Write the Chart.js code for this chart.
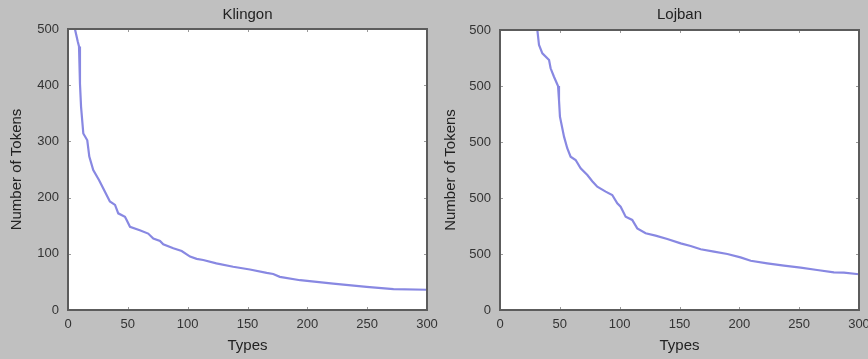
<!DOCTYPE html>
<html>
<head>
<meta charset="utf-8">
<script src="https://cdn.jsdelivr.net/npm/chart.js@4/dist/chart.umd.min.js"></script>
<style>
  html, body { margin: 0; padding: 0; background: #c0c0c0; }
  #wrap { position: relative; width: 868px; height: 359px; overflow: hidden; }
  canvas { display: block; position: absolute; top: 0; }
  #klingon { left: 0; }
  #lojban { left: 434px; }
</style>
</head>
<body>
<div id="wrap">
  <canvas id="klingon" width="450" height="359"></canvas>
  <canvas id="lojban" width="434" height="359"></canvas>
</div>
<script>
// Rank/frequency curves: types on x, token counts on y
const xTickLabels = ['0', '50', '100', '150', '200', '250', '300'];

const klingonTypes  = [1, 3, 5, 5.8, 8.1, 9.2, 10, 10.9, 12.8, 16.1, 17.8, 21.1, 26, 29.5, 35, 39.3, 42, 47.6, 49, 51.8, 60, 67, 71.3, 76.9, 79.6, 88, 95, 102, 107.5, 113, 124, 138, 152, 166, 171.5, 177, 194, 221.6, 249.5, 272, 300];
const klingonTokens = [830, 650, 530, 500, 478, 469, 403, 362, 314, 302, 273, 249, 231, 216, 193, 187, 172, 166, 160, 148, 142, 136, 127, 123, 117, 110, 105, 95, 91, 89, 83, 77, 72, 66, 64, 59, 53, 47, 41, 37, 36];
const klingonYTicks = ['0', '100', '200', '300', '400', '500'];

const lojbanTypes  = [27, 29, 31.2, 32.6, 35.4, 41, 42.3, 45.1, 48.5, 49.3, 50.1, 53.5, 56.2, 59, 63.2, 67.4, 73, 77.1, 81.3, 88.3, 93.8, 98, 100.8, 105, 110.5, 114.7, 121.7, 130, 139.8, 151, 159.3, 167.7, 178.8, 190, 201, 209.5, 223.3, 237.3, 251.2, 265, 279, 287.4, 300];
const lojbanTokens = [2800, 2650, 2500, 2366, 2292, 2232, 2158, 2083, 2000, 1875, 1726, 1548, 1444, 1369, 1339, 1265, 1205, 1150, 1101, 1057, 1027, 952, 922, 833, 804, 729, 685, 664, 634, 595, 571, 542, 521, 500, 470, 440, 417, 396, 378, 357, 336, 333, 319];
const lojbanYTicks = ['0', '500', '500', '500', '500', '500'];

const FONT = '"Liberation Sans", Arial, Helvetica, sans-serif';

// White plot area, dark frame and short inward tick marks on all four sides
const framePlugin = {
  id: 'frame',
  beforeDatasetsDraw(chart) {
    const { ctx, chartArea: a } = chart;
    ctx.save();
    ctx.fillStyle = '#ffffff';
    ctx.fillRect(a.left, a.top, a.right - a.left, a.bottom - a.top);
    ctx.restore();
  },
  afterDatasetsDraw(chart) {
    const { ctx, chartArea: a, scales } = chart;
    ctx.save();
    ctx.strokeStyle = '#9a9a9a';
    ctx.lineWidth = 1;
    const len = 3;
    scales.x.ticks.forEach(t => {
      const px = Math.round(scales.x.getPixelForValue(t.value)) + 0.5;
      ctx.beginPath();
      ctx.moveTo(px, a.top); ctx.lineTo(px, a.top + len);
      ctx.moveTo(px, a.bottom); ctx.lineTo(px, a.bottom - len);
      ctx.stroke();
    });
    scales.y.ticks.forEach(t => {
      const py = Math.round(scales.y.getPixelForValue(t.value)) + 0.5;
      ctx.beginPath();
      ctx.moveTo(a.left, py); ctx.lineTo(a.left + len, py);
      ctx.moveTo(a.right, py); ctx.lineTo(a.right - len, py);
      ctx.stroke();
    });
    ctx.strokeStyle = '#5c5c5c';
    ctx.lineWidth = 2;
    ctx.strokeRect(a.left, a.top, a.right - a.left, a.bottom - a.top);
    ctx.restore();
  }
};

function makeChart(id, title, xs, ys, yMax, yStep, yLabels, pad) {
  const points = xs.map((x, i) => ({ x: x, y: ys[i] }));
  return new Chart(document.getElementById(id), {
    type: 'line',
    data: {
      datasets: [{
        data: points,
        borderColor: 'rgb(136,136,226)',
        borderWidth: 2.2,
        pointRadius: 0,
        tension: 0,
        fill: false,
        clip: 0
      }]
    },
    options: {
      responsive: false,
      animation: false,
      events: [],
      layout: { padding: { left: 0, right: pad.right, top: 0, bottom: 0 } },
      plugins: {
        legend: { display: false },
        tooltip: { enabled: false },
        title: {
          display: true,
          text: title,
          fullSize: false,
          color: '#222',
          font: { family: FONT, size: 15, weight: 'normal', lineHeight: 1.2 },
          padding: { top: 6, bottom: pad.top - 24 }
        }
      },
      scales: {
        x: {
          type: 'linear',
          min: 0, max: 300,
          afterFit(s) {
            s.height = 359 - pad.bottom;
            s.paddingLeft = 0;
            s.paddingRight = 0;
          },
          ticks: {
            stepSize: 50,
            padding: 7,
            color: '#333',
            font: { family: FONT, size: 13 },
            maxRotation: 0,
            callback: (v, i) => xTickLabels[i]
          },
          grid: { display: false, drawTicks: false },
          border: { display: false },
          title: {
            display: true,
            text: 'Types',
            color: '#222',
            font: { family: FONT, size: 15, lineHeight: 1.2 },
            padding: { top: 0, bottom: 4 }
          }
        },
        y: {
          type: 'linear',
          min: 0, max: yMax,
          afterFit(s) {
            s.width = pad.left;
            s.paddingTop = 0;
            s.paddingBottom = 0;
          },
          ticks: {
            stepSize: yStep,
            padding: 9,
            color: '#333',
            font: { family: FONT, size: 13 },
            callback: (v, i) => yLabels[i]
          },
          grid: { display: false, drawTicks: false },
          border: { display: false },
          title: {
            display: true,
            text: 'Number of Tokens',
            color: '#222',
            font: { family: FONT, size: 15, lineHeight: 1.2 },
            padding: { top: 8, bottom: 0 }
          }
        }
      }
    },
    plugins: [framePlugin]
  });
}

// The left canvas is a little wider so its last x label is not cut off;
// the right canvas is transparent and sits over that margin.
makeChart('klingon', 'Klingon', klingonTypes, klingonTokens, 500, 100, klingonYTicks,
  { left: 68, right: 23, top: 29, bottom: 310 });
makeChart('lojban', 'Lojban', lojbanTypes, lojbanTokens, 2500, 500, lojbanYTicks,
  { left: 66, right: 9, top: 30, bottom: 310 });
</script>
</body>
</html>
